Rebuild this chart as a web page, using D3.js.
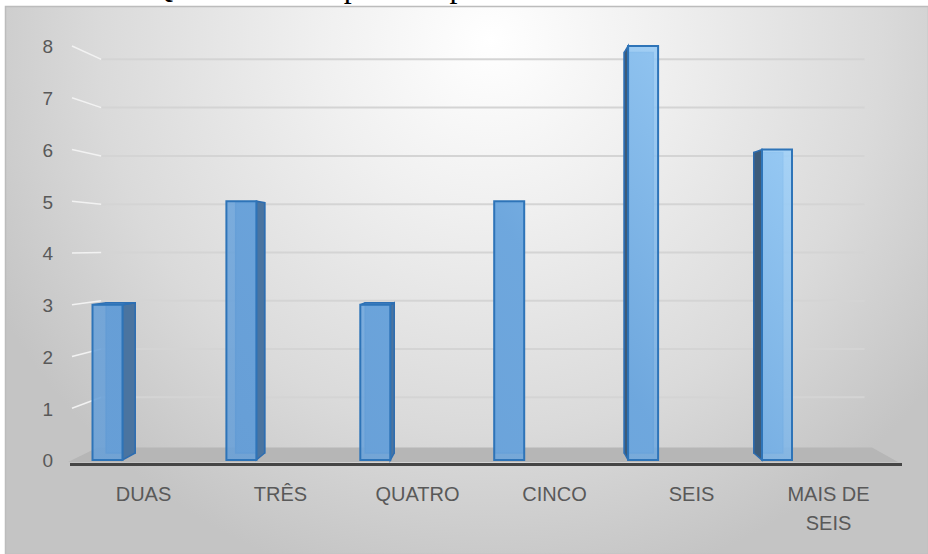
<!DOCTYPE html>
<html>
<head>
<meta charset="utf-8">
<script src="https://cdn.jsdelivr.net/npm/d3@7"></script>
<style>
  html, body { margin: 0; padding: 0; background: #ffffff; }
  svg { display: block; }
</style>
</head>
<body>
<script>
// ---- data ----
const categories = ["DUAS", "TRÊS", "QUATRO", "CINCO", "SEIS", "MAIS DE SEIS"];
const values = [3, 5, 3, 5, 8, 6];
const yTicks = [0, 1, 2, 3, 4, 5, 6, 7, 8];
const titleText = "Quantidade de pessoas por residência";

// ---- layout ----
const W = 928, H = 554;
const VPX = 510, VPY = 245;      // vanishing point for the 3D look
const K_BAR = 0.0327;            // bar depth factor
const K_WALL = 0.067;            // wall / floor depth factor
const proj = (x, y, k) => [x + k * (VPX - x), y + k * (VPY - y)];

const svg = d3.select("body").append("svg")
  .attr("width", W).attr("height", H);

const defs = svg.append("defs");
const bg = defs.append("radialGradient").attr("id", "bg")
  .attr("gradientUnits", "userSpaceOnUse")
  .attr("cx", 490).attr("cy", 40).attr("r", 560);
[[0, "#ffffff"], [0.3, "#f0f0f0"], [0.7, "#dadada"], [1, "#c4c4c4"]]
  .forEach(([o, c]) => bg.append("stop").attr("offset", o).attr("stop-color", c));

const bf = defs.append("linearGradient").attr("id", "barFront")
  .attr("gradientUnits", "userSpaceOnUse")
  .attr("x1", 250).attr("y1", 460).attr("x2", 800).attr("y2", 46);
[[0, "#68a0d8"], [0.5, "#71aae0"], [1, "#aadaff"]]
  .forEach(([o, c]) => bf.append("stop").attr("offset", o).attr("stop-color", c));

// title (mostly cut off at the top)
svg.append("text")
  .attr("x", 150).attr("y", -3)
  .attr("font-family", "Liberation Serif, Times New Roman, serif")
  .attr("font-size", 32).attr("fill", "#000")
  .text(titleText);

// chart area
svg.append("rect")
  .attr("x", 5.5).attr("y", 6.5).attr("width", W - 5).attr("height", H - 6)
  .attr("fill", "url(#bg)").attr("stroke", "#bcbcbc").attr("stroke-width", 1.5);

// scales
const y = d3.scaleLinear().domain([0, 8]).range([460, 46]);
const barX = d3.scalePoint().domain(categories).range([107.5, 777]);
const labelX = d3.scalePoint().domain(categories).range([143, 828]);
const barW = 30;

const wallLeft = 72, wallRight = 890;

// side-wall and back-wall gridlines
const grid = svg.append("g");
yTicks.filter(v => v > 0).forEach(v => {
  const yf = y(v);
  const bl = proj(wallLeft, yf, K_WALL);
  const br = proj(wallRight, yf, K_WALL);
  grid.append("line")
    .attr("x1", wallLeft).attr("y1", yf).attr("x2", bl[0]).attr("y2", bl[1])
    .attr("stroke", "#f2f2f2").attr("stroke-width", 1.5);
  grid.append("line")
    .attr("x1", bl[0]).attr("y1", bl[1]).attr("x2", br[0]).attr("y2", br[1])
    .attr("stroke", "#d4d4d4").attr("stroke-width", 2);
});

// floor
const floorY = y(0) + 2;
const fl = [68, floorY], fr = [898, floorY];
const bfl = proj(fl[0], fl[1], K_WALL), bfr = proj(fr[0], fr[1], K_WALL);
svg.append("polygon")
  .attr("points", [fl, fr, bfr, bfl].map(p => p.join(",")).join(" "))
  .attr("fill", "#b6b6b6");
svg.append("line")
  .attr("x1", 70).attr("x2", 902).attr("y1", floorY + 2.5).attr("y2", floorY + 2.5)
  .attr("stroke", "#454545").attr("stroke-width", 3);

// bars
const bars = svg.append("g");
categories.forEach((c, i) => {
  const v = values[i];
  const x0 = barX(c) - barW / 2, x1 = barX(c) + barW / 2;
  const yt = y(v), yb = y(0);
  const P = (x, yy) => proj(x, yy, K_BAR);
  const g = bars.append("g");
  const pts = a => a.map(p => p.join(",")).join(" ");

  // back edges (seen through the translucent front)
  const b00 = P(x0, yt), b10 = P(x1, yt), b01 = P(x0, yb), b11 = P(x1, yb);
  g.append("polygon").attr("points", pts([b00, b10, b11, b01]))
    .attr("fill", "#5b93cc").attr("stroke", "#3f7fc0").attr("stroke-width", 1.5);

  // side face
  if (x1 < VPX - 2) {
    g.append("polygon").attr("points", pts([[x1, yt], [x1, yb], b11, b10]))
      .attr("fill", "#4a74a0").attr("stroke", "#2e6db0").attr("stroke-width", 1.5);
  } else if (x0 > VPX + 2) {
    g.append("polygon").attr("points", pts([[x0, yt], [x0, yb], b01, b00]))
      .attr("fill", "#3c5b7a").attr("stroke", "#2e6db0").attr("stroke-width", 1.5);
  }
  // top face
  if (yt > VPY) {
    g.append("polygon").attr("points", pts([[x0, yt], [x1, yt], b10, b00]))
      .attr("fill", "#4f86c4").attr("stroke", "#2e70b4").attr("stroke-width", 1.5);
  }
  // front face
  g.append("rect")
    .attr("x", x0).attr("y", yt).attr("width", barW).attr("height", yb - yt)
    .attr("fill", "url(#barFront)").attr("fill-opacity", 0.88)
    .attr("stroke", "#2e74b8").attr("stroke-width", 2);
});

// y axis labels
const yAxis = svg.append("g").attr("transform", "translate(53,0)")
  .call(d3.axisLeft(y).tickValues(yTicks).tickSize(0).tickPadding(0).tickFormat(d3.format("d")));
yAxis.select(".domain").remove();
yAxis.selectAll("text")
  .attr("font-family", "Liberation Sans, Arial, sans-serif")
  .attr("font-size", 19).attr("fill", "#595959").attr("dy", "0.36em");

// x axis labels
const xAxis = svg.append("g").attr("transform", "translate(0,487)")
  .call(d3.axisBottom(labelX).tickSize(0).tickPadding(0));
xAxis.select(".domain").remove();
xAxis.selectAll("text")
  .attr("font-family", "Liberation Sans, Arial, sans-serif")
  .attr("font-size", 20).attr("fill", "#595959")
  .each(function (d) {
    const t = d3.select(this);
    const words = d.split(" ");
    const lines = [];
    let cur = "";
    words.forEach(w => {
      const test = cur ? cur + " " + w : w;
      if (test.length > 8 && cur) { lines.push(cur); cur = w; } else cur = test;
    });
    lines.push(cur);
    t.text(null);
    lines.forEach((ln, k) => {
      t.append("tspan").attr("x", 0).attr("dy", k === 0 ? "0.71em" : "29px").text(ln);
    });
  });
</script>
</body>
</html>
